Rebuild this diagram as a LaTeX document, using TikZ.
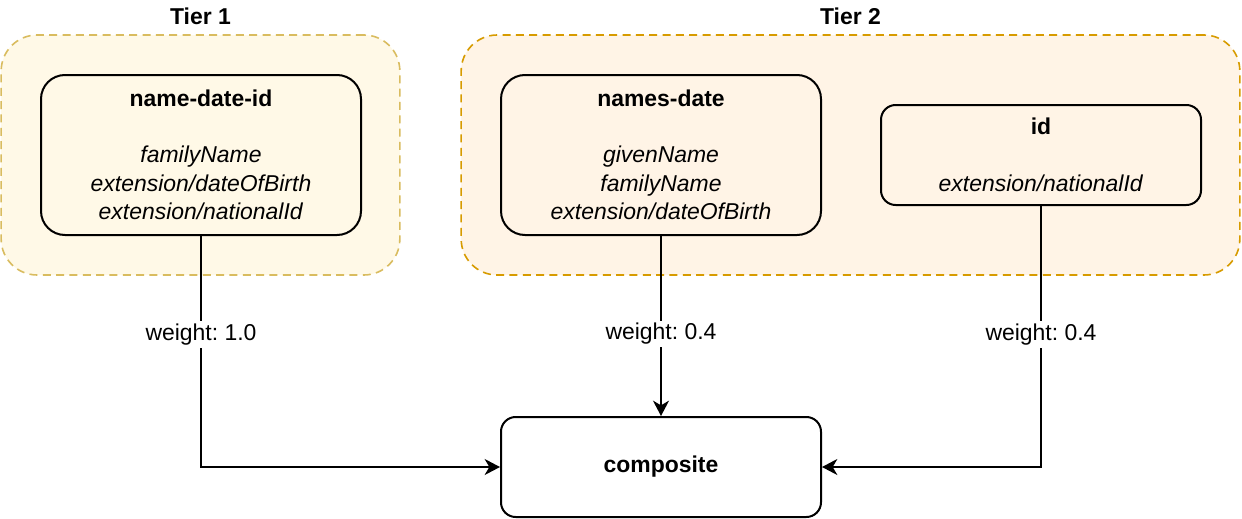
\documentclass[tikz,border=0pt]{standalone}
\usepackage{fontspec}
\setmainfont{Liberation Sans}
\usetikzlibrary{positioning,arrows.meta}
\usepackage{xcolor}
\definecolor{tieronefill}{HTML}{FFF9E7}
\definecolor{tieronedraw}{HTML}{D9BC5F}
\definecolor{tiertwofill}{HTML}{FFF4E6}
\definecolor{tiertwodraw}{HTML}{D79B00}
\frenchspacing

\begin{document}
\begin{tikzpicture}[x=0.75pt,y=-0.75pt,
    font=\fontsize{17.2}{21.3}\selectfont,
    tierbox/.style={rounded corners=27pt,dash pattern=on 6pt off 4pt,line width=1.2pt,minimum height=180pt},
    fieldbox/.style={draw,line width=1.5pt,rounded corners=18pt,minimum width=240pt,minimum height=120pt,align=center,inner sep=0pt},
    smallbox/.style={fieldbox,rounded corners=11pt,minimum height=75pt},
    tierlabel/.style={font=\fontsize{17.2}{21.3}\selectfont\bfseries},
    arrow/.style={-{Stealth[length=11.5pt,width=12pt,inset=3.5pt]},line width=1.5pt},
    weight/.style={fill=white,inner sep=2pt},
]
\useasboundingbox (0,0) rectangle (1242,518);

% Tier containers
\node[tierbox,draw=tieronedraw,fill=tieronefill,minimum width=299pt] (tier1) at (200.5,155) {};
\node[tierbox,draw=tiertwodraw,fill=tiertwofill,minimum width=584pt] (tier2) at (850.5,155) {};
\node[tierlabel] (tier1lbl) at (200.5,16) {Tier 1};
\node[tierlabel] (tier2lbl) at (850.5,16) {Tier 2};

% Matchers
\node[fieldbox] (ndi) at (201,155)
  {\textbf{name-date-id}\\[21pt]\textit{familyName}\\\textit{extension/dateOfBirth}\\\textit{extension/nationalId}};
\node[fieldbox] (nd) at (661,155)
  {\textbf{names-date}\\[21pt]\textit{givenName}\\\textit{familyName}\\\textit{extension/dateOfBirth}};
\node[smallbox] (idm) at (1041,155)
  {\textbf{id}\\[21pt]\textit{extension/nationalId}};
\node[smallbox,fill=white] (comp) at (661,467) {\textbf{composite}};

% Weighted links into the composite
\draw[arrow] (ndi.south) |- node[weight,pos=0.213] {weight: 1.0} (comp.west);
\draw[arrow] (nd.south) -- node[weight,pos=0.544] {weight: 0.4} (comp.north);
\draw[arrow] (idm.south) |- node[weight,pos=0.246] {weight: 0.4} (comp.east);
\end{tikzpicture}
\end{document}
